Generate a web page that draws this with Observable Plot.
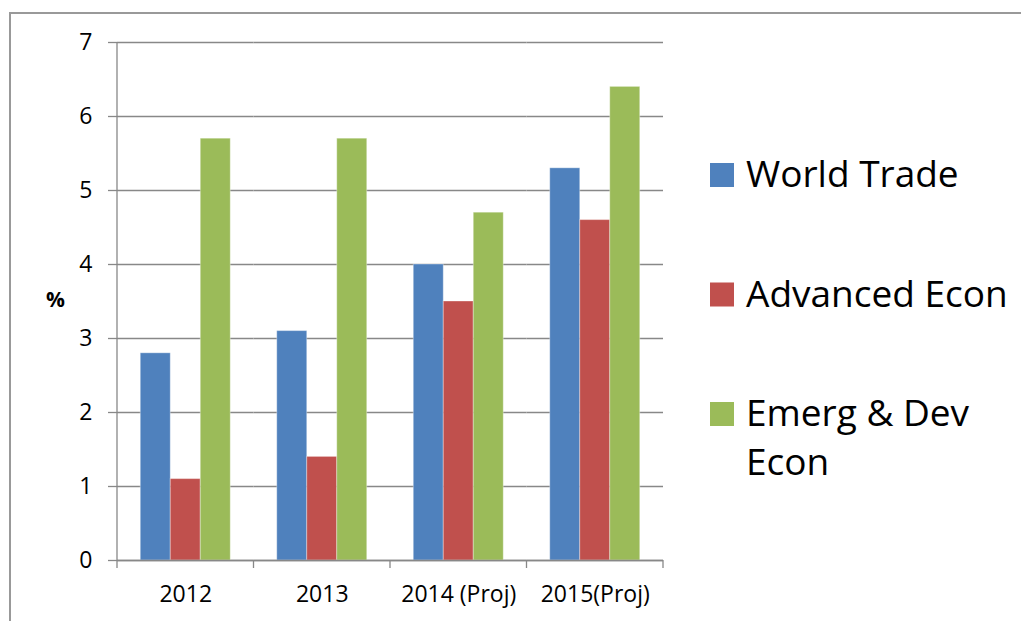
<!DOCTYPE html>
<html><head><meta charset="utf-8">
<script src="https://cdn.jsdelivr.net/npm/d3@7"></script>
<script src="https://cdn.jsdelivr.net/npm/@observablehq/plot@0.6"></script>
<style>
body{margin:0;background:#fff;font-family:"Open Sans",sans-serif}
#wrap{position:relative;width:1021px;height:621px;overflow:hidden;background:#fff}
#frame{position:absolute;left:9px;top:12px;width:3000px;height:3000px;border:2px solid #999;box-sizing:border-box}
#chart{position:absolute;left:0;top:0}
#legend{position:absolute;left:680px;top:0}
#ylab{position:absolute;left:46px;top:289px;font-weight:bold;font-size:21px;line-height:1;font-family:"Open Sans",sans-serif}
</style></head>
<body><div id="wrap"><div id="frame"></div><div id="chart"></div><svg id="legend" width="341" height="621"></svg><div id="ylab">%</div></div>
<script>
const categories = ["2012", "2013", "2014 (Proj)", "2015(Proj)"];
const series = ["World Trade", "Advanced Econ", "Emerg & Dev Econ"];
const worldTrade = [2.8, 3.1, 4.0, 5.3];
const advancedEcon = [1.1, 1.4, 3.5, 4.6];
const emergDevEcon = [5.7, 5.7, 4.7, 6.4];
const yTicks = [0, 1, 2, 3, 4, 5, 6, 7];
const colors = ["#4F81BD", "#C0504D", "#9BBB59"];
const legendLines = [["World Trade"], ["Advanced Econ"], ["Emerg & Dev", "Econ"]];

const valuesBySeries = [worldTrade, advancedEcon, emergDevEcon];
const rows = [];
categories.forEach((c, i) => series.forEach((s, j) => rows.push({cat: c, series: s, value: valuesBySeries[j][i]})));

const grey = "#888";
const chart = Plot.plot({
  width: 680, height: 621,
  marginLeft: 117, marginRight: 17, marginTop: 42, marginBottom: 61,
  style: {fontFamily: '"Open Sans", sans-serif', fontSize: "23px", color: "black", background: "transparent", overflow: "visible"},
  fx: {domain: categories, padding: 0, round: false, label: null, axis: null},
  x: {domain: series, paddingInner: 0, paddingOuter: 0.775, round: false, axis: null, label: null},
  y: {domain: [0, 7], axis: null, label: null},
  color: {domain: series, range: colors},
  marks: [
    Plot.gridY(yTicks, {stroke: grey, strokeOpacity: 1, strokeWidth: 1.3}),
    Plot.axisY(yTicks, {tickSize: 9, tickPadding: 16, tickFormat: d3.format("d"), stroke: grey, strokeOpacity: 1, strokeWidth: 1.3, fill: "black", fontSize: 23, label: null}),
    Plot.barY(rows, {fx: "cat", x: "series", y: "value", fill: "series", stroke: "white", strokeOpacity: 0.35, strokeWidth: 1}),
    Plot.ruleY([0], {stroke: grey, strokeWidth: 1.3}),
    Plot.axisFx({anchor: "bottom", tickSize: 0, tickPadding: 25, fontSize: 23, fill: "black", label: null})
  ]
});
document.getElementById("chart").appendChild(chart);

// boundary ticks and vertical axis line, from the plot's own scales
const svgEl = chart.tagName.toLowerCase() === "svg" ? chart : chart.querySelector("svg");
const fxd = chart.scale("fx");
const fx = d3.scaleBand().domain(fxd.domain).range(fxd.range)
  .paddingInner(fxd.paddingInner ?? 0).paddingOuter(fxd.paddingOuter ?? 0);
const yd = chart.scale("y");
const y = d3.scaleLinear().domain(yd.domain).range(yd.range);
const bounds = categories.map(c => fx(c)).concat([fx(categories[categories.length - 1]) + fx.bandwidth()]);
const g = d3.select(svgEl).append("g").attr("stroke", grey).attr("stroke-width", 1.3);
g.selectAll("line.b").data(bounds).join("line").attr("class", "b")
  .attr("x1", d => d).attr("x2", d => d).attr("y1", y(0)).attr("y2", y(0) + 8);
g.append("line").attr("x1", bounds[0]).attr("x2", bounds[0]).attr("y1", y(yTicks[yTicks.length - 1])).attr("y2", y(0));

// legend
const leg = d3.select("#legend").style("font-family", '"Open Sans", sans-serif');
const items = leg.selectAll("g").data(series).join("g")
  .attr("transform", (d, i) => `translate(0,${187 + i * 119.5})`);
items.append("rect").attr("x", 30).attr("y", -24).attr("width", 24).attr("height", 24)
  .attr("fill", (d, i) => colors[i]);
items.each(function(d, i) {
  const t = d3.select(this).append("text").attr("x", 66).attr("font-size", 37).attr("fill", "black");
  legendLines[i].forEach((ln, k) => t.append("tspan").attr("x", 66).attr("y", k * 49).text(ln));
});
</script>
</body></html>
